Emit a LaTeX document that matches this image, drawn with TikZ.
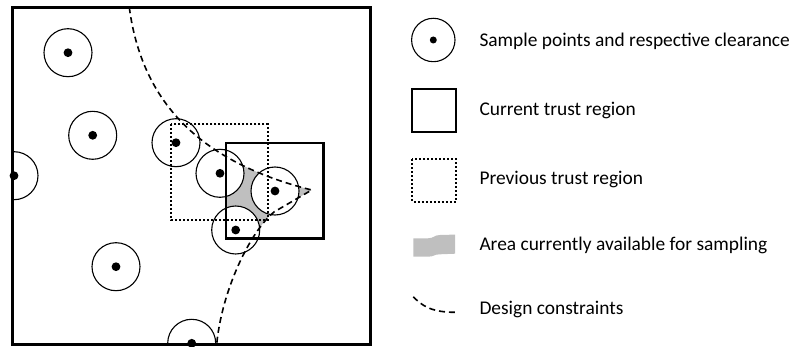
\documentclass[tikz,border=0pt]{standalone}
\usepackage{fontspec}
\setmainfont{Carlito}
\begin{document}
\begin{tikzpicture}[x=1pt,y=-1pt,
  clearance/.style={draw=black,line width=1.1pt,fill=white},
  sample/.style={fill=black},
  current/.style={draw=black,line width=2.2pt},
  previous/.style={draw=black,line width=2.2pt,dash pattern=on 2pt off 2pt},
  constraint/.style={draw=black,line width=1.6pt,dash pattern=on 6pt off 4pt},
  feasible/.style={fill=black!25},
  legendtext/.style={anchor=base west,inner sep=0pt,font=\fontsize{19.4}{23}\selectfont}]
\useasboundingbox (0,0) rectangle (802,347);

% available area: current trust region on the feasible side of the constraints
\begin{scope}
  \clip (226.3,143.3) rectangle (323.5,238.5);
  \path[feasible] (129.3,7.3) .. controls (143,112) and (211.7,165) .. (311.7,190)
     -- (274,212) .. controls (250,232) and (222,290) .. (216.7,344)
     -- (0,344) -- (0,7.3) -- cycle;
\end{scope}

% clearance circles around the sample points
\begin{scope}
  \clip (12.7,7.3) rectangle (370.7,344);
  \foreach \p in {(68,52.7),(92.7,135.3),(14,175.7),(116,266.7),(191.7,343.3),
                  (176,142.7),(220,173.3),(275,191),(235.7,230)}
    \path[clearance] \p circle[radius=24];
\end{scope}
\foreach \p in {(68,52.7),(92.7,135.3),(14,175.7),(116,266.7),(191.7,343.3),
                (176,142.7),(220,173.3),(275,191),(235.7,230)}
  \path[sample] \p circle[radius=4.4];

% trust regions
\path[previous] (171,124) rectangle (267.7,220);
\path[current] (226.3,143.3) rectangle (323.5,238.5);

% design constraints
\path[constraint] (129.3,7.3) .. controls (143,112) and (211.7,165) .. (311.7,190)
   -- (274,212) .. controls (250,232) and (222,290) .. (216.7,344);

% design space
\draw[line width=3pt] (12.7,7.3) rectangle (370.7,344);

% legend
\path[clearance] (433.3,40) circle[radius=21.7];
\path[sample] (433.3,40) circle[radius=3.5];
\node[legendtext] (l1) at (479.3,46.7) {Sample points and respective clearance};

\path[current] (412.3,89.3) rectangle (456,132.3);
\node[legendtext] (l2) at (479.3,116) {Current trust region};

\path[previous] (412.3,159.3) rectangle (456,201.7);
\node[legendtext] (l3) at (479.3,185) {Previous trust region};

\path[feasible] (413.3,238.3) -- (428,238.3) .. controls (434,238.3) and (434,235) .. (440,235)
   -- (455,234.6) -- (455,253.7) -- (440,254.3) .. controls (434,254.3) and (434,256.7) .. (428,256.7)
   -- (413.3,256.7) -- cycle;
\node[legendtext] (l4) at (479.3,250.7) {Area currently available for sampling};

\path[constraint] (413.3,296.7) .. controls (422,306) and (432,312.3) .. (455,312.3);
\node[legendtext] (l5) at (479.3,314) {Design constraints};
\end{tikzpicture}
\end{document}
